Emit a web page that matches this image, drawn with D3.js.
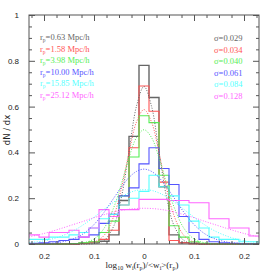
<!DOCTYPE html>
<html>
<head>
<meta charset="utf-8">
<script src="https://cdn.jsdelivr.net/npm/d3@7"></script>
<style>
  body { margin: 0; background: #fff; }
  svg { display: block; }
</style>
</head>
<body>
<div id="chart-container"></div>
<script>
// bin centres of the histograms (bin width 0.02)
const binCenters = [-0.22, -0.20, -0.18, -0.16, -0.14, -0.12, -0.10, -0.08, -0.06, -0.04, -0.02,
    0.00, 0.02, 0.04, 0.06, 0.08, 0.10, 0.12, 0.14, 0.16, 0.18, 0.20, 0.22];

const rpLabels = ["0.63", "1.58", "3.98", "10.00", "15.85", "25.12"];
const sigmaLabels = ["0.029", "0.034", "0.040", "0.061", "0.084", "0.128"];

// histogram heights, one array per r_p
const histBlack   = [0, 0, 0, 0, 0, 0.003, 0.005, 0.012, 0.04, 0.19, 0.47, 0.78, 0.64, 0.25, 0.04, 0.006, 0.003, 0, 0, 0, 0, 0, 0];
const histRed     = [0, 0, 0, 0, 0, 0.003, 0.01, 0.02, 0.06, 0.17, 0.42, 0.69, 0.58, 0.27, 0.015, 0.005, 0, 0, 0, 0, 0, 0, 0];
const histGreen   = [0, 0, 0, 0, 0.002, 0.005, 0.01, 0.05, 0.10, 0.21, 0.38, 0.56, 0.53, 0.30, 0.08, 0.03, 0.01, 0.003, 0, 0, 0, 0, 0];
const histBlue    = [0.003, 0.005, 0.01, 0.015, 0.02, 0.03, 0.04, 0.09, 0.13, 0.21, 0.245, 0.35, 0.42, 0.33, 0.26, 0.12, 0.05, 0.02, 0.01, 0.005, 0.003, 0, 0];
const histCyan    = [0.02, 0.02, 0.03, 0.03, 0.04, 0.05, 0.07, 0.11, 0.13, 0.17, 0.20, 0.23, 0.30, 0.25, 0.21, 0.17, 0.10, 0.07, 0.03, 0.02, 0.02, 0.01, 0.01];
const histMagenta = [0.04, 0.03, 0.05, 0.05, 0.06, 0.03, 0.07, 0.15, 0.12, 0.15, 0.15, 0.195, 0.195, 0.195, 0.19, 0.19, 0.18, 0.18, 0.11, 0.11, 0.07, 0.07, 0.035];

// dotted fitted curves, read at these x positions
const curveX = [-0.23, -0.20, -0.17, -0.14, -0.12, -0.10, -0.08, -0.06, -0.045, -0.03, -0.015, 0,
    0.015, 0.03, 0.045, 0.06, 0.08, 0.10, 0.12, 0.14, 0.17, 0.20, 0.23];
const fitBlack   = [0, 0, 0, 0, 0, 0.002, 0.015, 0.081, 0.206, 0.403, 0.602, 0.688, 0.602, 0.403, 0.206, 0.081, 0.015, 0.002, 0, 0, 0, 0, 0];
const fitRed     = [0, 0, 0, 0, 0.001, 0.008, 0.037, 0.124, 0.245, 0.398, 0.533, 0.587, 0.533, 0.398, 0.245, 0.124, 0.037, 0.008, 0.001, 0, 0, 0, 0];
const fitGreen   = [0, 0, 0, 0.001, 0.006, 0.022, 0.068, 0.162, 0.265, 0.377, 0.465, 0.499, 0.465, 0.377, 0.265, 0.162, 0.068, 0.022, 0.006, 0.001, 0, 0, 0];
const fitBlue    = [0, 0.002, 0.007, 0.024, 0.047, 0.085, 0.138, 0.202, 0.249, 0.290, 0.317, 0.327, 0.317, 0.290, 0.249, 0.202, 0.138, 0.085, 0.047, 0.024, 0.007, 0.002, 0];
const fitCyan    = [0.006, 0.014, 0.031, 0.059, 0.086, 0.117, 0.151, 0.184, 0.206, 0.223, 0.234, 0.237, 0.234, 0.223, 0.206, 0.184, 0.151, 0.117, 0.086, 0.059, 0.031, 0.014, 0.006];
const fitMagenta = [0.031, 0.046, 0.065, 0.086, 0.100, 0.115, 0.128, 0.140, 0.147, 0.152, 0.155, 0.156, 0.155, 0.152, 0.147, 0.140, 0.128, 0.115, 0.100, 0.086, 0.065, 0.046, 0.031];

const colors = ["#666", "#ff5555", "#55ee55", "#5555ff", "#55ffff", "#ff66ff"];
const hists = [histBlack, histRed, histGreen, histBlue, histCyan, histMagenta];
const fits = [fitBlack, fitRed, fitGreen, fitBlue, fitCyan, fitMagenta];

const width = 274;
const height = 274;
const margin = {top: 15, right: 15, bottom: 30, left: 29};
const binWidth = 0.02;

const x = d3.scaleLinear().domain([-0.23, 0.23]).range([margin.left, width - margin.right]);
const y = d3.scaleLinear().domain([0, 1]).range([height - margin.bottom, margin.top]);

const svg = d3.select("#chart-container")
    .append("svg")
    .attr("width", width)
    .attr("height", height)
    .style("font-family", "'DejaVu Sans', sans-serif");

const plot = svg.append("g");

// histograms as step lines
const stepLine = d3.line()
    .x(d => x(d[0]))
    .y(d => y(d[1]))
    .curve(d3.curveStepAfter);

const fitLine = d3.line()
    .x((d, i) => x(curveX[i]))
    .y(d => y(d))
    .curve(d3.curveCatmullRom);

hists.forEach((h, k) => {
    const pts = h.map((v, i) => [binCenters[i] - binWidth / 2, v]);
    pts.push([binCenters[binCenters.length - 1] + binWidth / 2, h[h.length - 1]]);
    plot.append("path")
        .attr("d", stepLine(pts))
        .attr("fill", "none")
        .attr("stroke", colors[k])
        .attr("stroke-width", k === 0 ? 1.4 : 1.1);
});

fits.forEach((f, k) => {
    plot.append("path")
        .attr("d", fitLine(f))
        .attr("fill", "none")
        .attr("stroke", colors[k])
        .attr("stroke-width", 1)
        .attr("stroke-dasharray", "1,1.6");
});

// frame and ticks
svg.append("rect")
    .attr("x", margin.left)
    .attr("y", margin.top)
    .attr("width", width - margin.left - margin.right)
    .attr("height", height - margin.top - margin.bottom)
    .attr("fill", "none")
    .attr("stroke", "#555")
    .attr("stroke-width", 1);

const xMajor = [-0.2, -0.1, 0, 0.1, 0.2];
const xMinor = d3.range(-0.225, 0.2251, 0.025).filter(v => !xMajor.some(m => Math.abs(m - v) < 1e-6));
const yMajor = [0, 0.2, 0.4, 0.6, 0.8, 1];
const yMinor = d3.range(0.05, 1, 0.05).filter(v => !yMajor.some(m => Math.abs(m - v) < 1e-6));

function styleAxis(g) {
    g.select(".domain").remove();
    g.selectAll("line").attr("stroke", "#555");
    g.selectAll("text").attr("fill", "#222").style("font-size", "8px");
}

svg.append("g")
    .attr("transform", `translate(0,${y(0)})`)
    .call(d3.axisBottom(x).tickValues(xMajor).tickSize(-6).tickPadding(9)
        .tickFormat(d => d === 0 ? "0" : Math.abs(d).toFixed(1)))
    .call(styleAxis);
svg.append("g")
    .attr("transform", `translate(0,${y(0)})`)
    .call(d3.axisBottom(x).tickValues(xMinor).tickSize(-3).tickFormat(""))
    .call(styleAxis);
svg.append("g")
    .attr("transform", `translate(0,${y(1)})`)
    .call(d3.axisTop(x).tickValues(xMajor).tickSize(-6).tickFormat(""))
    .call(styleAxis);
svg.append("g")
    .attr("transform", `translate(0,${y(1)})`)
    .call(d3.axisTop(x).tickValues(xMinor).tickSize(-3).tickFormat(""))
    .call(styleAxis);

svg.append("g")
    .attr("transform", `translate(${x(-0.23)},0)`)
    .call(d3.axisLeft(y).tickValues(yMajor).tickSize(-6).tickPadding(10)
        .tickFormat(d => d === 0 ? "0" : d === 1 ? "1" : d.toFixed(1)))
    .call(styleAxis);
svg.append("g")
    .attr("transform", `translate(${x(-0.23)},0)`)
    .call(d3.axisLeft(y).tickValues(yMinor).tickSize(-3).tickFormat(""))
    .call(styleAxis);
svg.append("g")
    .attr("transform", `translate(${x(0.23)},0)`)
    .call(d3.axisRight(y).tickValues(yMajor).tickSize(-6).tickFormat(""))
    .call(styleAxis);
svg.append("g")
    .attr("transform", `translate(${x(0.23)},0)`)
    .call(d3.axisRight(y).tickValues(yMinor).tickSize(-3).tickFormat(""))
    .call(styleAxis);

// axis titles
const xt = svg.append("text")
    .attr("x", 142)
    .attr("y", 268)
    .attr("text-anchor", "middle")
    .style("font-family", "'Liberation Serif', serif")
    .style("font-size", "9px")
    .attr("fill", "#222");
xt.append("tspan").text("log");
xt.append("tspan").attr("dy", 2).style("font-size", "6px").text("10");
xt.append("tspan").attr("dy", -2).text(" w");
xt.append("tspan").attr("dy", 2).style("font-size", "6px").text("i");
xt.append("tspan").attr("dy", -2).text("(r");
xt.append("tspan").attr("dy", 2).style("font-size", "6px").text("p");
xt.append("tspan").attr("dy", -2).text(")/<w");
xt.append("tspan").attr("dy", 2).style("font-size", "6px").text("i");
xt.append("tspan").attr("dy", -2).text(">(r");
xt.append("tspan").attr("dy", 2).style("font-size", "6px").text("p");
xt.append("tspan").attr("dy", -2).text(")");

svg.append("text")
    .attr("transform", "translate(10,130) rotate(-90)")
    .attr("text-anchor", "middle")
    .style("font-size", "8.5px")
    .attr("fill", "#222")
    .text("dN / dx");

// legends
const rowY = i => 40 + i * 11.5;
rpLabels.forEach((lab, i) => {
    const t = svg.append("text")
        .attr("x", 40)
        .attr("y", rowY(i))
        .attr("fill", colors[i])
        .style("font-family", "'Liberation Serif', serif")
        .style("font-size", "8.5px");
    t.append("tspan").text("r");
    t.append("tspan").attr("dy", 2).style("font-size", "5.5px").text("p");
    t.append("tspan").attr("dy", -2).text("=" + lab + " Mpc/h");
});
sigmaLabels.forEach((lab, i) => {
    svg.append("text")
        .attr("x", 214)
        .attr("y", rowY(i) + 1)
        .attr("fill", colors[i])
        .style("font-family", "'Liberation Serif', serif")
        .style("font-size", "8.5px")
        .text("σ=" + lab);
});
</script>
</body>
</html>
